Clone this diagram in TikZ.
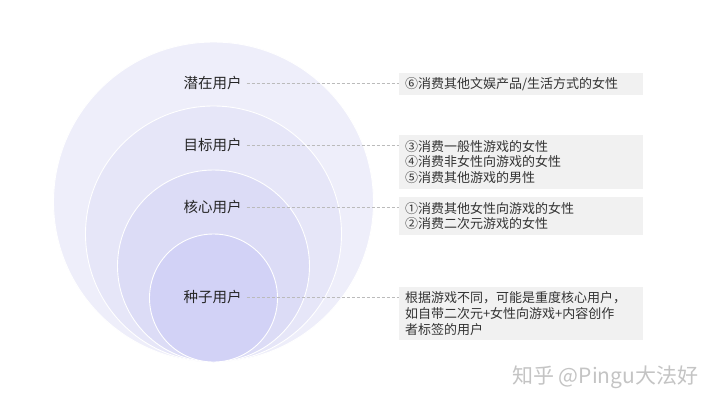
\documentclass[tikz,border=0pt]{standalone}
\usepackage{fontspec}
\setmainfont{Noto Sans CJK SC}
\definecolor{c1}{HTML}{EEEEFA}
\definecolor{c2}{HTML}{E6E6F8}
\definecolor{c3}{HTML}{DCDCF6}
\definecolor{c4}{HTML}{D2D2F6}
\definecolor{boxgray}{HTML}{F1F1F1}
\definecolor{txt}{HTML}{333333}
\definecolor{dashc}{HTML}{BBBBBB}
\definecolor{wm}{HTML}{C4C4C4}
\tikzset{
  ring/.style={circle, draw=white, line width=0.9pt, inner sep=0pt},
  lvl/.style={font=\fontsize{14.5}{16}\selectfont, text=black!85, inner sep=5pt},
  infobox/.style={fill=boxgray, text=txt, font=\fontsize{13}{15.6}\selectfont,
    align=left, text width=232pt, inner xsep=6pt, inner ysep=0pt, minimum width=244pt},
  leader/.style={draw=dashc, line width=0.6pt, dash pattern=on 3pt off 2pt}
}
\begin{document}
\begin{tikzpicture}[x=1pt,y=-1pt]
\useasboundingbox (0,0) rectangle (720,405);
\fill[white] (0,0) rectangle (720,405);
% circles
\node[ring, fill=c1, minimum size=320pt] (r1) at (213.5,202) {};
\node[ring, fill=c2, minimum size=256pt] (r2) at (213.5,234) {};
\node[ring, fill=c3, minimum size=192pt] (r3) at (213.5,266) {};
\node[ring, fill=c4, minimum size=128pt] (r4) at (213.5,298) {};
% labels
\node[lvl] (l1) at (212.5,83) {潜在用户};
\node[lvl] (l2) at (212.5,145) {目标用户};
\node[lvl] (l3) at (212.5,207) {核心用户};
\node[lvl] (l4) at (212.5,297) {种子用户};
% boxes
\node[infobox, minimum height=22pt] (b1) at (521,84) {⑥消费其他文娱产品/生活方式的女性};
\node[infobox, minimum height=54pt] (b2) at (521,162) {③消费一般性游戏的女性\\④消费非女性向游戏的女性\\⑤消费其他游戏的男性};
\node[infobox, minimum height=38pt] (b3) at (521,216) {①消费其他女性向游戏的女性\\②消费二次元游戏的女性};
\node[infobox, minimum height=53pt] (b4) at (521,313.5) {根据游戏不同，可能是重度核心用户，\\如自带二次元+女性向游戏+内容创作\\者标签的用户};
% leaders
\draw[leader] (l1.east) -- (l1.east -| b1.west);
\draw[leader] (l2.east) -- (l2.east -| b2.west);
\draw[leader] (l3.east) -- (l3.east -| b3.west);
\draw[leader] (l4.east) -- (l4.east -| b4.west);
% watermark
\node[anchor=west, text=wm, font=\fontsize{21}{22}\selectfont, inner sep=0pt] (wm) at (512,377) {知乎 @Pingu大法好};
\end{tikzpicture}
\end{document}
